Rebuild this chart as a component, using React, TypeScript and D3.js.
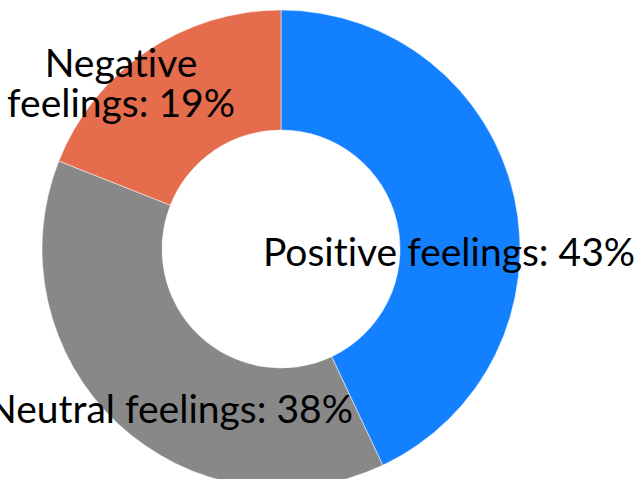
import React from "react";
import * as d3 from "d3";

const categories = ["Positive feelings", "Neutral feelings", "Negative feelings"];
const values = [43, 38, 19];
const colors = ["#1380FF", "#888888", "#E66C4E"];
const labelLines = [["Positive feelings: 43%"], ["Neutral feelings: 38%"], ["Negative", "feelings: 19%"]];
// label anchor offsets (first-line baseline) from center (layout)
const labelPos = [
  { dx: 168, dy: 17 },
  { dx: -111, dy: 174 },
  { dx: -160, dy: -172 },
];

export default function App() {
  const W = 641, H = 479;
  const cx = 281, cy = 249, R = 239, r = 119;
  const FS = 39, LH = 40;
  const pie = d3.pie<number>().sort(null).value((d) => d);
  const arcs = pie(values);
  const arc = d3.arc<d3.PieArcDatum<number>>().innerRadius(r).outerRadius(R);
  return (
    <svg width={W} height={H} style={{ position: "absolute", left: 0, top: 0, background: "#fff" }}>
      <g transform={`translate(${cx},${cy})`}>
        {arcs.map((a, i) => (
          <path key={categories[i]} d={arc(a) || ""} fill={colors[i]} stroke="#fff" strokeWidth={0.5} />
        ))}
        {arcs.map((a, i) => (
          <text
            key={"t" + i}
            x={labelPos[i].dx}
            y={labelPos[i].dy}
            textAnchor="middle"
            fontFamily="Lato"
            fontSize={FS}
            fill="#000"
            style={{ fontVariantLigatures: "none" }}
          >
            {labelLines[i].map((l, j) => (
              <tspan key={j} x={labelPos[i].dx} dy={j === 0 ? 0 : LH}>
                {l}
              </tspan>
            ))}
          </text>
        ))}
      </g>
    </svg>
  );
}
